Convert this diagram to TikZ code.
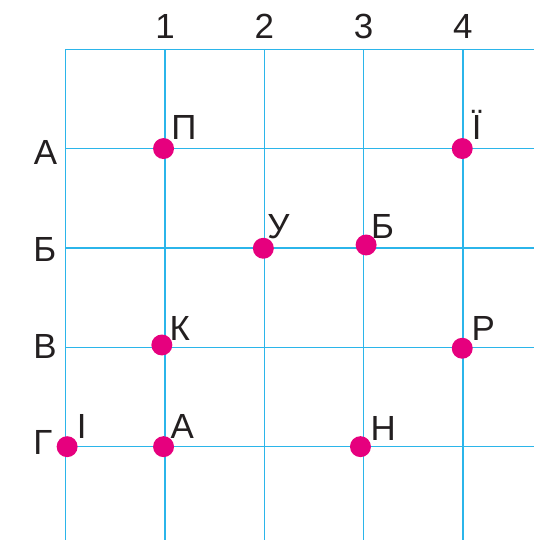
\documentclass[tikz,border=0pt]{standalone}
\usepackage{fontspec}
\setmainfont{Liberation Sans}
\usepackage{xcolor}
\usepackage{tikz}
\usetikzlibrary{calc,positioning}
\definecolor{gridBlue}{RGB}{43,181,234}
\definecolor{ptMagenta}{RGB}{230,0,126}
\definecolor{txtDark}{RGB}{35,31,32}
\tikzset{
  gridline/.style={gridBlue, line width=0.75pt},
  mdot/.style={circle, fill=ptMagenta, inner sep=0pt, minimum size=0.422cm},
  lbl/.style={text=txtDark, inner sep=0pt, anchor=base west, font=\fontsize{20}{24}\selectfont},
  colnum/.style={text=txtDark, inner sep=0pt, anchor=base, font=\fontsize{20}{24}\selectfont}
}

\begin{document}
\begin{tikzpicture}[x=2cm, y=-2cm]
\useasboundingbox (-0.662,-0.496) rectangle (4.716,4.942);

\foreach \i in {0,...,4}
  \draw[gridline] (\i,0) -- (\i,4.942);
\foreach \j in {0,...,4}
  \draw[gridline] (0,\j) -- (4.716,\j);

\foreach \i in {1,...,4}
  \node[colnum] (c\i) at (\i,-0.104) {\i};

\node[lbl] (rA) at (-0.324,1.161) {А};
\node[lbl] (rB) at (-0.330,2.135) {Б};
\node[lbl] (rV) at (-0.330,3.118) {В};
\node[lbl] (rG) at (-0.330,4.080) {Г};

\node[mdot] (dP)  at (0.985,1.000) {};
\node[mdot] (dYi) at (3.993,1.000) {};
\node[mdot] (dU)  at (1.990,2.004) {};
\node[mdot] (dB)  at (3.025,1.971) {};
\node[mdot] (dK)  at (0.968,2.978) {};
\node[mdot] (dR)  at (3.993,3.011) {};
\node[mdot] (dI)  at (0.014,4.002) {};
\node[mdot] (dA)  at (0.985,4.002) {};
\node[mdot] (dN)  at (2.968,4.002) {};

\node[lbl] (lP)  at (1.060,0.913) {П};
\node[lbl] (lYi) at (4.087,0.913) {Ї};
\node[lbl] (lU)  at (2.027,1.903) {У};
\node[lbl] (lB)  at (3.072,1.903) {Б};
\node[lbl] (lK)  at (1.042,2.935) {К};
\node[lbl] (lR)  at (4.084,2.935) {Р};
\node[lbl] (lI)  at (0.108,3.917) {І};
\node[lbl] (lA)  at (1.053,3.917) {А};
\node[lbl] (lN)  at (3.066,3.935) {Н};
\end{tikzpicture}
\end{document}
